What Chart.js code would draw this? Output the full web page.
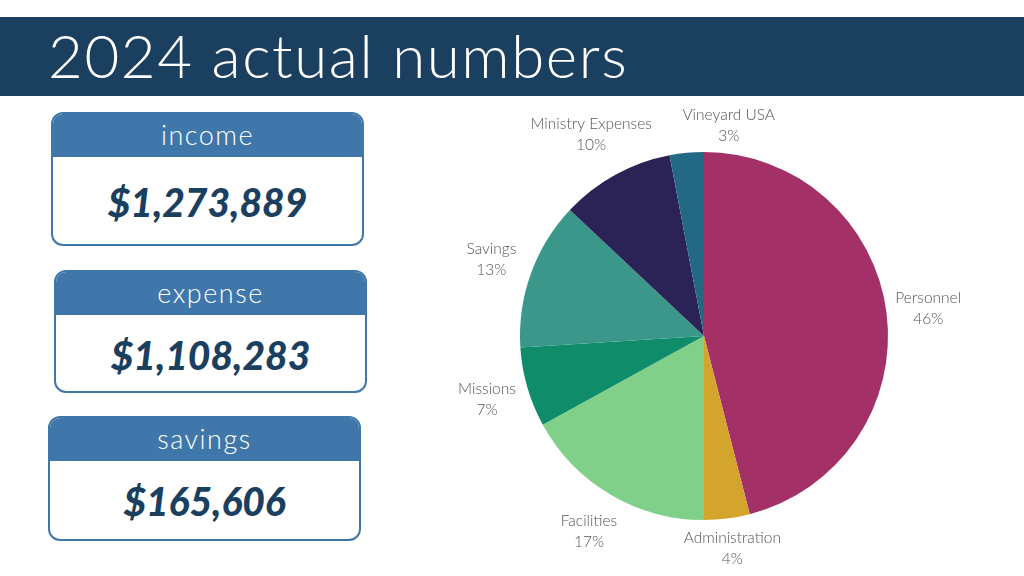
<!DOCTYPE html>
<html>
<head>
<meta charset="utf-8">
<script src="https://cdn.jsdelivr.net/npm/chart.js@4"></script>
<style>
  html, body { margin: 0; padding: 0; }
  body { width: 1024px; height: 576px; background: #fff; position: relative; overflow: hidden; font-family: Lato, "Open Sans", sans-serif; }
  .banner { position: absolute; left: 0; top: 17px; width: 1024px; height: 79px; background: #1a3f5f; }
  .banner h1 { margin: 0; position: absolute; left: 48px; top: 3px; color: #fff; font-weight: 300; font-size: 60px; letter-spacing: 1.6px; line-height: 70px; }
  .card { position: absolute; width: 313px; height: 127px; border: 2px solid #3f77aa; border-radius: 12px; box-sizing: border-box; overflow: hidden; background: #fff; }
  .card .head { height: 43px; background: #3f77aa; color: #fff; font-weight: 300; font-size: 27px; letter-spacing: 1.5px; text-align: center; line-height: 42px; }
  .card .val { text-align: center; color: #1b3f5f; font-weight: 900; font-style: italic; font-size: 39px; line-height: 80px; }
  #wrap { position: absolute; left: 454px; top: 100px; width: 560px; height: 472px; }
</style>
</head>
<body>
<div class="banner"><h1>2024 actual numbers</h1></div>

<div class="card" style="left:51px; top:112px; height:134px;"><div class="head">income</div><div class="val" style="line-height:90px;">$1,273,889</div></div>
<div class="card" style="left:54px; top:270px; height:123px;"><div class="head">expense</div><div class="val">$1,108,283</div></div>
<div class="card" style="left:48px; top:416px; height:125px;"><div class="head">savings</div><div class="val">$165,606</div></div>

<div id="wrap"><canvas id="pie"></canvas></div>

<script>
const categories = ['Personnel', 'Administration', 'Facilities', 'Missions', 'Savings', 'Ministry Expenses', 'Vineyard USA'];
const shares = [46, 4, 17, 7, 13, 10, 3];
const colors = ['#a33167', '#d4a52c', '#80d08a', '#0f8c69', '#3a978a', '#2b2255', '#236986'];

// labels outside the slices, like the slide's "best fit" labels
const outsideLabels = {
  id: 'outsideLabels',
  afterDatasetsDraw(chart, args, opts) {
    const ctx = chart.ctx;
    const arcs = chart.getDatasetMeta(0).data;
    ctx.save();
    ctx.font = '300 15.5px Lato, sans-serif';
    ctx.fillStyle = '#555';
    ctx.textAlign = 'center';
    ctx.textBaseline = 'middle';
    arcs.forEach((arc, i) => {
      const p = arc.getProps(['x', 'y', 'startAngle', 'endAngle', 'outerRadius'], true);
      const mid = (p.startAngle + p.endAngle) / 2;
      const r = p.outerRadius + opts.gap;
      const nudge = opts.nudge[i] || [0, 0];
      const x = p.x + Math.cos(mid) * r + nudge[0];
      const y = p.y + Math.sin(mid) * r + nudge[1];
      ctx.fillText(categories[i], x, y - 10);
      ctx.fillText(shares[i] + '%', x, y + 11);
    });
    ctx.restore();
  }
};

new Chart(document.getElementById('pie'), {
  type: 'pie',
  data: {
    labels: categories,
    datasets: [{
      data: shares,
      backgroundColor: colors,
      borderWidth: 0
    }]
  },
  options: {
    responsive: true,
    maintainAspectRatio: false,
    animation: false,
    layout: { padding: { top: 52, bottom: 52, left: 66, right: 126 } },
    plugins: {
      legend: { display: false },
      tooltip: { enabled: false },
      outsideLabels: { gap: 42, nudge: { 1: [0, -12], 6: [46, 14], 5: [-4, -4] } }
    }
  },
  plugins: [outsideLabels]
});
</script>
</body>
</html>
